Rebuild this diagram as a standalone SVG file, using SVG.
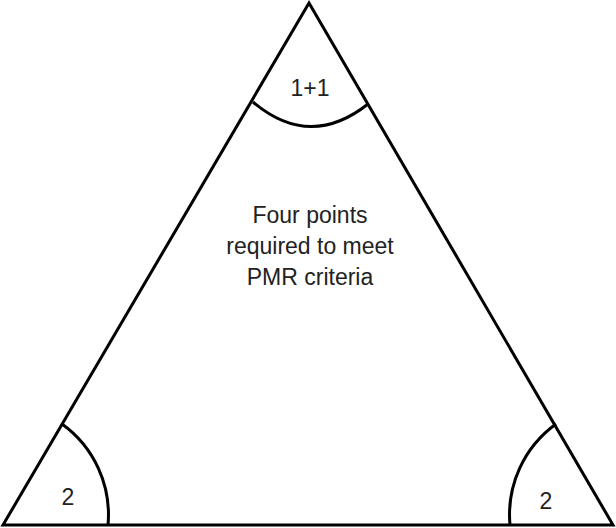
<svg xmlns="http://www.w3.org/2000/svg" width="616" height="528" viewBox="0 0 616 528">
<style>.l{fill:none;stroke:#000;stroke-width:3}.t{font-family:"Liberation Sans",Arial,sans-serif;font-size:23px;fill:#222;text-anchor:middle}</style>
<rect width="616" height="528" fill="#fff"/>
<g id="triangle"><path class="l" d="M309,3 L3,525 L613,525 Z"/></g>
<g id="connectors">
<path class="l" d="M253,102 Q310,150 368,104"/>
<path class="l" d="M62,424 A112 112 0 0 1 108,525"/>
<path class="l" d="M556,424 A112 112 0 0 0 510,525"/>
</g>
<g id="labels">
<text class="t" x="310" y="96">1+1</text>
<text class="t" x="68" y="505">2</text>
<text class="t" x="546" y="509">2</text>
<text class="t" x="310" y="223">Four points</text>
<text class="t" x="310" y="254">required to meet</text>
<text class="t" x="310" y="285">PMR criteria</text>
</g>
</svg>
